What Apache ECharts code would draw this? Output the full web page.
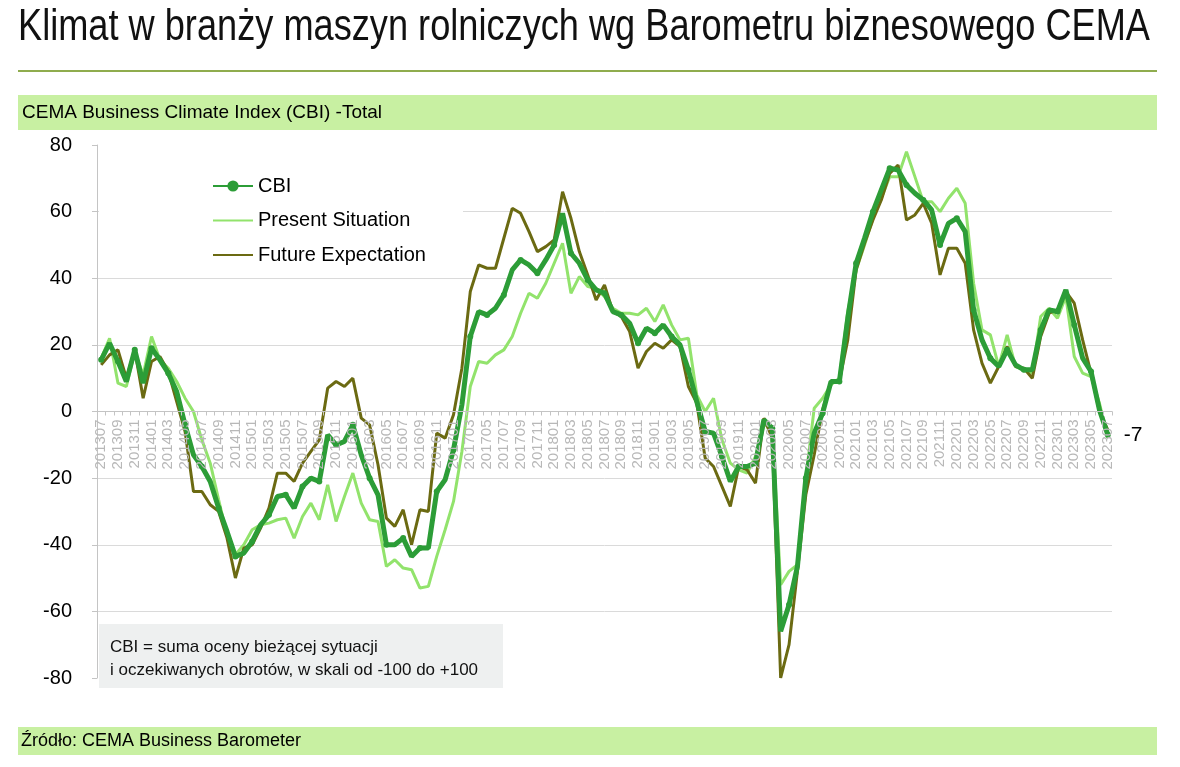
<!DOCTYPE html>
<html>
<head>
<meta charset="utf-8">
<script src="https://cdn.jsdelivr.net/npm/echarts@6/dist/echarts.min.js"></script>
<style>
html,body{margin:0;padding:0;background:#fff;}
#chart{width:1180px;height:767px;}
</style>
</head>
<body>
<div id="chart"></div>
<script>
// Monthly categories 201307 .. 202307
var categories = [];
for (var y = 2013, m = 7; y * 100 + m <= 202307; ) {
  categories.push(String(y) + (m < 10 ? '0' + m : String(m)));
  m++; if (m > 12) { m = 1; y++; }
}

var cbi = [15.5,20.5,15,9,18.5,8.5,19,15.5,11.5,6,-4,-13,-16.5,-21,-29,-36,-43.5,-42.5,-39,-34,
-31,-25.5,-25,-29,-22.5,-20,-21,-7,-10,-9,-4,-13,-20,-25,-40,-40,-38,-43.5,-41,-41,
-24,-20.5,-11.5,2,22.5,30,29,31,35,42.5,45.5,44,41.5,45.5,50,59.5,47.5,44.5,39.5,36.5,
35.5,30,29,26.5,20.5,25,23.5,26,22.5,20,12.5,3,-6,-6.5,-13.5,-21,-16.5,-16.5,-15.5,-2.5,
-5,-66,-58,-46.5,-20,-6.5,-0.5,9,9,28,44.5,52,60,66.5,73,72.5,68,65.5,63.5,60.5,
50,56.5,58,54,30.5,21.5,16,13.5,18.5,14,12.5,12.5,24.5,30.5,30,36.5,26,16,12,0.5,-7];

var present = [16,22,8.5,7.5,18,11,22.5,15.5,13,9,4,0,-8.5,-15.5,-26.5,-37,-43,-40,-35.5,-34,
-33.5,-32.5,-32,-38,-31.5,-27.5,-32.5,-22,-33,-25.5,-18.5,-27.5,-32.5,-33,-46.5,-44.5,-47,-47.5,-53,-52.5,
-43.5,-35.5,-27,-12,7.5,15,14.5,17,18.5,22.5,29.5,35.5,34,38.5,44.5,50.5,35.5,40.5,37.5,37,
34.5,31,29.5,29.5,29,31,27,32,26,21.5,22,5,0,4,-8.5,-15.5,-17.5,-18.5,-13.5,-4,
-4.5,-52,-48,-46,-20,1,4,8,10,30,42.5,50,58,64,70.5,70.5,78,70.5,63,63,
60,64,67,62.5,38.5,24.5,23,13.5,23,13.5,12.5,11.5,28.5,31,28,34.5,16.5,11.5,10.5,2.5,-8];

var future = [14,17,18.5,10,18.5,4,15,16.5,12,3,-6,-24,-24,-28,-30,-38,-50,-41,-40,-35,
-29,-18.5,-18.5,-21,-15.5,-12,-8.5,7,9,7.5,10,-2,-4,-16,-32,-34.5,-29.5,-40,-29.5,-30,
-6.5,-8,-1,13,36,44,43,43,52,61,59.5,54,48,49.5,51.5,66,58,48,41,33.5,
38,30,28.5,24,13,18,20.5,19,21.5,19.5,7.5,2.5,-14,-16.5,-22.5,-28.5,-16.5,-17.5,-21.5,-2,
-8,-80,-70,-48,-25,-13,0.5,9,9,21.5,42.5,50.5,57.5,63.5,71.5,74,57.5,59,62.5,56.5,
41,49,49,44.5,24.5,14.5,8.5,13.5,19.5,13.5,13,10,22.5,29.5,30.5,36,32.5,21.5,11.5,0,-5.5];

var yTicks = [-80,-60,-40,-20,0,20,40,60,80];

var titleText = 'Klimat w branży maszyn rolniczych wg Barometru biznesowego CEMA';
var FONT = '"Liberation Sans", Arial, sans-serif';

var cv = document.createElement('canvas').getContext('2d');
cv.font = '44px "Liberation Sans"';
var titleScale = 1132 / cv.measureText(titleText).width;

var GRID_TOP = 145, GRID_BOTTOM = 89, H = 767;
var plotH = H - GRID_TOP - GRID_BOTTOM;
var yMin = -80, yMax = 80;
var zeroOffset = plotH * (0 - yMin) / (yMax - yMin);

// gridlines: none drawn at the outer -80 / 80 positions
var gridColors = yTicks.map(function (v) { return (v === yMin || v === yMax) ? 'rgba(0,0,0,0)' : '#dadada'; });

var chart = echarts.init(document.getElementById('chart'));
chart.setOption({
  backgroundColor: '#ffffff',
  animation: false,
  textStyle: { fontFamily: FONT },
  grid: { left: 97, right: 68, top: GRID_TOP, bottom: GRID_BOTTOM, containLabel: false },
  legend: {
    orient: 'vertical', left: 207, top: 171, itemWidth: 40, itemHeight: 14, itemGap: 14.5,
    textStyle: { fontSize: 20, color: '#000', fontFamily: FONT, lineHeight: 20 },
    data: [
      { name: 'CBI' },
      { name: 'Present Situation', itemStyle: { opacity: 0 } },
      { name: 'Future Expectation', itemStyle: { opacity: 0 } }
    ], z: 6
  },
  xAxis: {
    type: 'category', data: categories, boundaryGap: true, position: 'bottom',
    offset: -zeroOffset, z: 5,
    axisLine: { onZero: false, lineStyle: { color: '#c4c4c4', width: 1 } },
    axisTick: { show: true, interval: 0, length: 4, lineStyle: { color: '#c4c4c4' } },
    axisLabel: { interval: 1, rotate: 90, color: '#b8b8b8', fontSize: 15, margin: 8, fontFamily: FONT },
    splitLine: { show: false }
  },
  yAxis: {
    type: 'value', min: yMin, max: yMax, interval: 20,
    axisLine: { show: true, lineStyle: { color: '#c4c4c4' } },
    axisTick: { show: true, length: 5, lineStyle: { color: '#c4c4c4' } },
    axisLabel: { fontSize: 20, color: '#000', margin: 25, fontFamily: FONT,
      formatter: function (v) { return yTicks.indexOf(v) >= 0 ? String(v) : ''; } },
    splitLine: { show: true, lineStyle: { color: gridColors, width: 1 } }
  },
  series: [
    { name: 'Present Situation', type: 'line', data: present, symbol: 'none', z: 3,
      lineStyle: { color: '#92e36c', width: 3 }, itemStyle: { color: '#92e36c' } },
    { name: 'Future Expectation', type: 'line', data: future, symbol: 'none', z: 3,
      lineStyle: { color: '#6b6a12', width: 3 }, itemStyle: { color: '#6b6a12' } },
    { name: 'CBI', type: 'line', data: cbi, symbol: 'circle', symbolSize: 6, showSymbol: true, z: 4,
      lineStyle: { color: '#2c9d37', width: 5 }, itemStyle: { color: '#2c9d37' },
      endLabel: { show: true, formatter: '{c}', fontSize: 21, color: '#000', distance: 16, fontFamily: FONT } }
  ],
  graphic: [
    { type: 'text', left: 18, top: 6, z: 10,
      style: { text: titleText, font: '44px ' + FONT, fill: '#111' },
      scaleX: titleScale, originX: 0 },
    { type: 'line', z: 10, shape: { x1: 18, y1: 71, x2: 1157, y2: 71 },
      style: { stroke: '#8fac4e', lineWidth: 2 } },
    { type: 'rect', z: 1, shape: { x: 18, y: 95, width: 1139, height: 35 },
      style: { fill: '#c8f0a2' } },
    { type: 'text', z: 10, x: 22, y: 113,
      style: { text: 'CEMA Business Climate Index (CBI) -Total', font: '19px ' + FONT, fill: '#000', textVerticalAlign: 'middle' } },
    { type: 'rect', z: 1, shape: { x: 18, y: 727, width: 1139, height: 28 },
      style: { fill: '#c8f0a2' } },
    { type: 'text', z: 10, x: 21, y: 741,
      style: { text: 'Źródło: CEMA Business Barometer', font: '18px ' + FONT, fill: '#000', textVerticalAlign: 'middle' } },
    { type: 'rect', z: 3, shape: { x: 99, y: 150, width: 364, height: 120 },
      style: { fill: '#ffffff' } },
    { type: 'rect', z: 5, shape: { x: 99, y: 624, width: 404, height: 64 },
      style: { fill: '#eef0f0' } },
    { type: 'text', z: 10, x: 110, y: 647,
      style: { text: 'CBI = suma oceny bieżącej sytuacji', font: '17px ' + FONT, fill: '#111', textVerticalAlign: 'middle' } },
    { type: 'text', z: 10, x: 110, y: 670,
      style: { text: 'i oczekiwanych obrotów, w skali od -100 do +100', font: '17px ' + FONT, fill: '#111', textVerticalAlign: 'middle' } }
  ]
});
</script>
</body>
</html>
